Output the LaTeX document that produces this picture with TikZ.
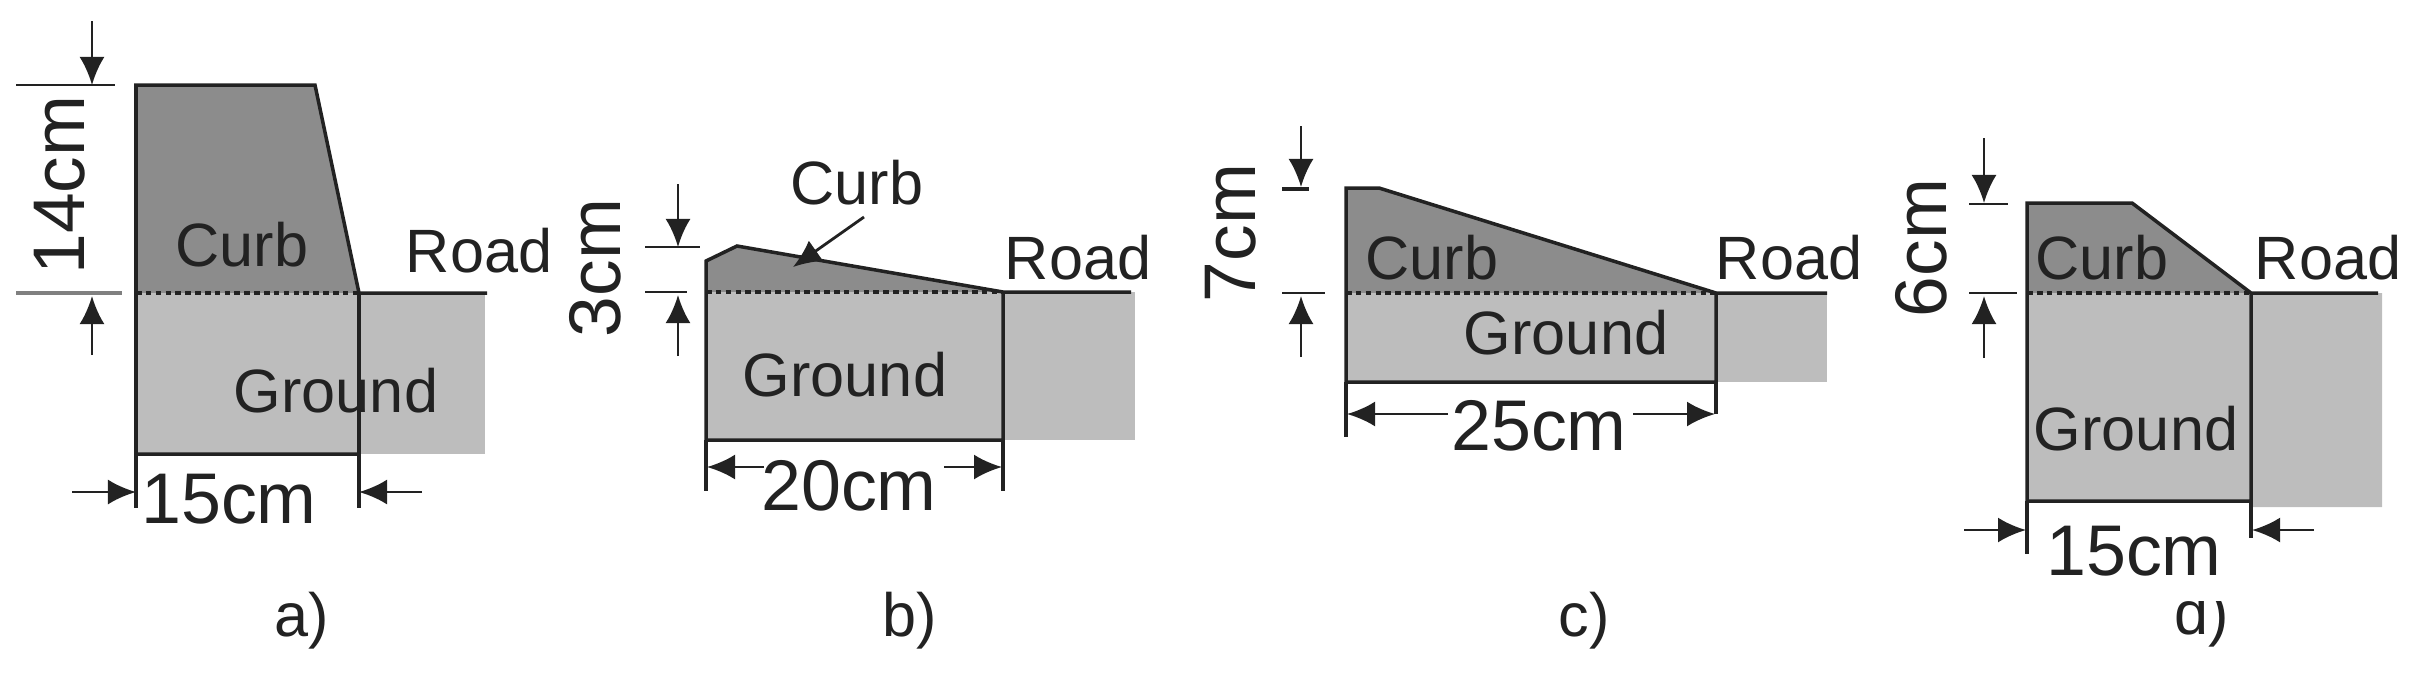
\documentclass[tikz,border=0pt]{standalone}
\usepackage{fontspec}
\setmainfont{Liberation Sans}
\usetikzlibrary{arrows.meta}
\definecolor{curbgray}{HTML}{8C8C8C}
\definecolor{groundgray}{HTML}{BDBDBD}
\definecolor{inkgray}{HTML}{222222}
\tikzset{
part node/.style={anchor=base,inner sep=0pt,text=inkgray,font=\fontsize{17.4}{20}\selectfont},
dim node/.style={anchor=base,inner sep=0pt,text=inkgray,font=\fontsize{20.4}{24}\selectfont},
vdim node/.style={rotate=90,inner sep=0pt,text=inkgray,font=\fontsize{20.8}{24}\selectfont},
curb fill/.style={fill=curbgray},
ground fill/.style={fill=groundgray},
outline/.style={draw=inkgray,line width=1pt},
seam/.style={draw=inkgray,line width=0.9pt,dash pattern=on 1.6pt off 1.2pt},
dim line/.style={draw=inkgray,line width=0.8pt},
dim arrow/.style={draw=inkgray,line width=0.8pt,-{Latex[length=0.28cm,width=0.25cm]}},
}
\begin{document}
\begin{tikzpicture}[x=0.01cm,y=-0.01cm]
\useasboundingbox (0,0) rectangle (2422,672);
% a)
\begin{scope}
\coordinate (a1) at (136,85);
\coordinate (a2) at (315,85);
\coordinate (a3) at (359,293);
\coordinate (a4) at (136,293);
\coordinate (a5) at (359,454);
\coordinate (a6) at (136,454);
\coordinate (a7) at (487,293);
\coordinate (a8) at (485,454);
\fill[curb fill] (a1) -- (a2) -- (a3) -- (a4) -- cycle;
\fill[ground fill] (a4) -- (a3 -| a8) -- (a8) -- (a6) -- cycle;
\draw[outline] (a3) -- (a2) -- (a1) -- (a6) -- (a5) -- (a3) -- (a7);
\draw[seam] (a4) -- (a3);
\coordinate (a9) at (136,508);
\coordinate (a10) at (359,508);
\draw[outline] (a6) -- (a9) (a5) -- (a10);
\coordinate (a11) at (16,85);
\coordinate (a12) at (115,85);
\coordinate (a13) at (16,293);
\coordinate (a14) at (122,293);
\draw[dim line] (a11) -- (a12);
\draw[dim line,draw=gray,line width=1.4pt] (a13) -- (a14);
\coordinate (a15) at (92,21);
\coordinate (a16) at (92,85);
\coordinate (a17) at (92,355);
\coordinate (a18) at (92,296);
\draw[dim arrow] (a15) -- (a16);
\draw[dim arrow] (a17) -- (a18);
\coordinate (a19) at (72,492);
\coordinate (a20) at (136,492);
\coordinate (a21) at (422,492);
\coordinate (a22) at (359,492);
\draw[dim arrow] (a19) -- (a20);
\draw[dim arrow] (a21) -- (a22);
\node[part node] (acurb) at (242,266) {Curb};
\node[part node] (aroad) at (479,272) {Road};
\node[part node] (aground) at (336,412) {Ground};
\node[vdim node] (aheight) at (60,185) {14cm};
\node[dim node] (awidth) at (229,523) {15cm};
\node[part node] (acap) at (302,636) {a)};
\end{scope}
% b)
\begin{scope}
\coordinate (b1) at (706,261);
\coordinate (b2) at (737,246);
\coordinate (b3) at (1003,292);
\coordinate (b4) at (706,292);
\coordinate (b5) at (1003,440);
\coordinate (b6) at (706,440);
\coordinate (b7) at (1131,292);
\coordinate (b8) at (1135,440);
\fill[curb fill] (b1) -- (b2) -- (b3) -- (b4) -- cycle;
\fill[ground fill] (b4) -- (b3 -| b8) -- (b8) -- (b6) -- cycle;
\draw[outline] (b3) -- (b2) -- (b1) -- (b6) -- (b5) -- (b3) -- (b7);
\draw[seam] (b4) -- (b3);
\coordinate (b9) at (706,491);
\coordinate (b10) at (1003,491);
\draw[outline] (b6) -- (b9) (b5) -- (b10);
\coordinate (b11) at (645,247);
\coordinate (b12) at (700,247);
\coordinate (b13) at (645,292);
\coordinate (b14) at (687,292);
\draw[dim line] (b11) -- (b12);
\draw[dim line] (b13) -- (b14);
\coordinate (b15) at (678,184);
\coordinate (b16) at (678,247);
\coordinate (b17) at (678,356);
\coordinate (b18) at (678,295);
\draw[dim arrow] (b15) -- (b16);
\draw[dim arrow] (b17) -- (b18);
\coordinate (b19) at (764,467);
\coordinate (b20) at (707,467);
\coordinate (b21) at (944,467);
\coordinate (b22) at (1002,467);
\draw[dim arrow] (b19) -- (b20);
\draw[dim arrow] (b21) -- (b22);
\coordinate (b23) at (864,217);
\coordinate (b24) at (793,267);
\draw[dim arrow] (b23) -- (b24);
\node[part node] (bcurb) at (857,204) {Curb};
\node[part node] (broad) at (1078,279) {Road};
\node[part node] (bground) at (845,396) {Ground};
\node[vdim node] (bheight) at (595,268) {3cm};
\node[dim node] (bwidth) at (849,510) {20cm};
\node[part node] (bcap) at (910,636) {b)};
\end{scope}
% c)
\begin{scope}
\coordinate (c1) at (1346,188);
\coordinate (c2) at (1379,188);
\coordinate (c3) at (1716,293);
\coordinate (c4) at (1346,293);
\coordinate (c5) at (1716,382);
\coordinate (c6) at (1346,382);
\coordinate (c7) at (1827,293);
\coordinate (c8) at (1827,382);
\fill[curb fill] (c1) -- (c2) -- (c3) -- (c4) -- cycle;
\fill[ground fill] (c4) -- (c7) -- (c8) -- (c6) -- cycle;
\draw[outline] (c3) -- (c2) -- (c1) -- (c6) -- (c5) -- (c3) -- (c7);
\draw[seam] (c4) -- (c3);
\coordinate (c9) at (1346,437);
\coordinate (c10) at (1716,414);
\draw[outline] (c6) -- (c9) (c5) -- (c10);
\coordinate (c11) at (1282,189);
\coordinate (c12) at (1309,189);
\coordinate (c13) at (1282,293);
\coordinate (c14) at (1325,293);
\draw[dim line,line width=1.2pt] (c11) -- (c12);
\draw[dim line] (c13) -- (c14);
\coordinate (c15) at (1301,126);
\coordinate (c16) at (1301,187);
\coordinate (c17) at (1301,357);
\coordinate (c18) at (1301,296);
\draw[dim arrow] (c15) -- (c16);
\draw[dim arrow] (c17) -- (c18);
\coordinate (c19) at (1448,414);
\coordinate (c20) at (1347,414);
\coordinate (c21) at (1633,414);
\coordinate (c22) at (1715,414);
\draw[dim arrow] (c19) -- (c20);
\draw[dim arrow] (c21) -- (c22);
\node[part node] (ccurb) at (1432,279) {Curb};
\node[part node] (croad) at (1789,279) {Road};
\node[part node] (cground) at (1566,354) {Ground};
\node[vdim node] (cheight) at (1231,233) {7cm};
\node[dim node] (cwidth) at (1539,450) {25cm};
\node[part node] (ccap) at (1584,636) {c)};
\end{scope}
% d)
\begin{scope}
\node[part node] (dcap) at (2202,634) {d)};
\node[dim node,fill=white,inner xsep=0.1cm,text depth=0.26cm] (dwidth) at (2134,575) {15cm};
\coordinate (d1) at (2027,203);
\coordinate (d2) at (2132,203);
\coordinate (d3) at (2251,293);
\coordinate (d4) at (2027,293);
\coordinate (d5) at (2251,501);
\coordinate (d6) at (2027,501);
\coordinate (d7) at (2378,293);
\coordinate (d8) at (2382,507);
\fill[curb fill] (d1) -- (d2) -- (d3) -- (d4) -- cycle;
\fill[ground fill] (d4) -- (d3 -| d8) -- (d8) -- (d5 |- d8) -- (d5) -- (d6) -- cycle;
\draw[outline] (d3) -- (d2) -- (d1) -- (d6) -- (d5) -- (d3) -- (d7);
\draw[seam] (d4) -- (d3);
\coordinate (d9) at (2027,554);
\coordinate (d10) at (2251,538);
\draw[outline] (d6) -- (d9) (d5) -- (d10);
\coordinate (d11) at (1969,204);
\coordinate (d12) at (2008,204);
\coordinate (d13) at (1969,293);
\coordinate (d14) at (2017,293);
\draw[dim line] (d11) -- (d12);
\draw[dim line] (d13) -- (d14);
\coordinate (d15) at (1984,138);
\coordinate (d16) at (1984,203);
\coordinate (d17) at (1984,358);
\coordinate (d18) at (1984,296);
\draw[dim arrow] (d15) -- (d16);
\draw[dim arrow] (d17) -- (d18);
\coordinate (d19) at (1964,530);
\coordinate (d20) at (2026,530);
\coordinate (d21) at (2314,530);
\coordinate (d22) at (2252,530);
\draw[dim arrow] (d19) -- (d20);
\draw[dim arrow] (d21) -- (d22);
\node[part node] (dcurb) at (2102,279) {Curb};
\node[part node] (droad) at (2328,279) {Road};
\node[part node] (dground) at (2136,450) {Ground};
\node[vdim node] (dheight) at (1921,248) {6cm};
\end{scope}
\end{tikzpicture}
\end{document}
